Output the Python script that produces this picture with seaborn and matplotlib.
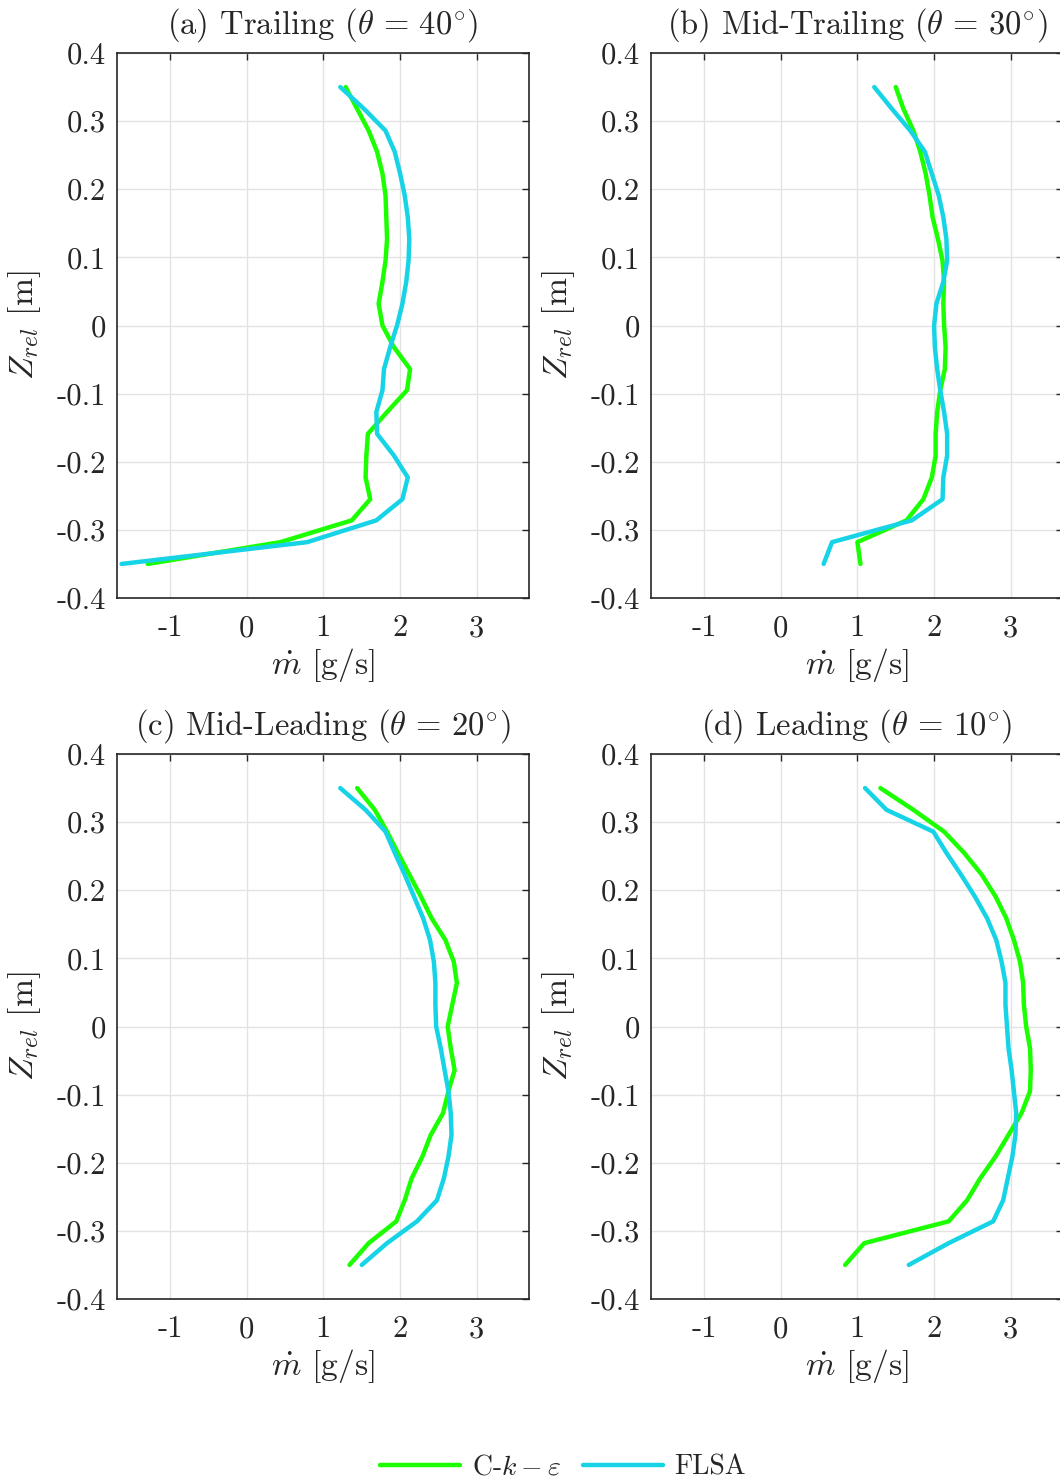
import matplotlib
matplotlib.use("Agg")
import matplotlib.pyplot as plt
import seaborn as sns
import pandas as pd
from matplotlib.lines import Line2D

# Relative height of the sampling stations [m]
z_rel = [0.35, 0.318, 0.286, 0.255, 0.223, 0.191, 0.159, 0.127, 0.095, 0.064,
         0.032, 0.0, -0.032, -0.064, -0.095, -0.127, -0.159, -0.191, -0.223,
         -0.255, -0.286, -0.318, -0.35]

# Mass flow rate [g/s], C-k-epsilon model
cke_trailing = [1.29, 1.44, 1.59, 1.70, 1.77, 1.81, 1.82, 1.83, 1.81, 1.77, 1.72, 1.77,
                1.92, 2.13, 2.09, 1.83, 1.58, 1.56, 1.55, 1.61, 1.37, 0.44, -1.29]
cke_mid_trailing = [1.50, 1.60, 1.73, 1.82, 1.89, 1.94, 1.98, 2.05, 2.11, 2.13, 2.12, 2.13,
                    2.15, 2.14, 2.08, 2.04, 2.02, 2.02, 1.97, 1.86, 1.64, 1.00, 1.04]
cke_mid_leading = [1.44, 1.67, 1.83, 1.97, 2.12, 2.27, 2.41, 2.59, 2.70, 2.74, 2.68, 2.62,
                   2.66, 2.71, 2.63, 2.56, 2.40, 2.29, 2.15, 2.06, 1.95, 1.59, 1.34]
cke_leading = [1.30, 1.73, 2.13, 2.39, 2.62, 2.80, 2.94, 3.04, 3.12, 3.16, 3.17, 3.20,
               3.25, 3.26, 3.25, 3.14, 2.97, 2.80, 2.60, 2.43, 2.19, 1.09, 0.84]

# Mass flow rate [g/s], FLSA model
flsa_trailing = [1.22, 1.53, 1.81, 1.93, 2.00, 2.06, 2.10, 2.12, 2.11, 2.08, 2.03, 1.96,
                 1.87, 1.79, 1.77, 1.69, 1.70, 1.92, 2.10, 2.03, 1.69, 0.79, -1.63]
flsa_mid_trailing = [1.22, 1.45, 1.69, 1.88, 1.97, 2.06, 2.12, 2.16, 2.17, 2.12, 2.03, 2.00,
                     2.01, 2.04, 2.08, 2.13, 2.17, 2.17, 2.12, 2.11, 1.71, 0.67, 0.56]
flsa_mid_leading = [1.22, 1.55, 1.81, 1.93, 2.06, 2.18, 2.30, 2.39, 2.44, 2.46, 2.46, 2.47,
                    2.53, 2.58, 2.63, 2.66, 2.67, 2.63, 2.57, 2.48, 2.22, 1.83, 1.50]
flsa_leading = [1.10, 1.38, 1.99, 2.16, 2.35, 2.53, 2.69, 2.81, 2.88, 2.93, 2.93, 2.95,
                2.97, 3.01, 3.04, 3.07, 3.06, 3.02, 2.96, 2.90, 2.77, 2.19, 1.67]

panel_titles = [r"(a) Trailing ($\theta\,=\,40^{\circ}$)",
                r"(b) Mid-Trailing ($\theta\,=\,30^{\circ}$)",
                r"(c) Mid-Leading ($\theta\,=\,20^{\circ}$)",
                r"(d) Leading ($\theta\,=\,10^{\circ}$)"]
model_names = [r"C-$k - \varepsilon$", "FLSA"]
x_ticks = [-1, 0, 1, 2, 3]
x_tick_labels = ["-1", "0", "1", "2", "3"]
y_ticks = [0.4, 0.3, 0.2, 0.1, 0.0, -0.1, -0.2, -0.3, -0.4]
y_tick_labels = ["0.4", "0.3", "0.2", "0.1", "0", "-0.1", "-0.2", "-0.3", "-0.4"]

cke_series = [cke_trailing, cke_mid_trailing, cke_mid_leading, cke_leading]
flsa_series = [flsa_trailing, flsa_mid_trailing, flsa_mid_leading, flsa_leading]

colors = {"cke": "#1bff00", "flsa": "#16d4e6"}

sns.set_theme(style="whitegrid")
plt.rcParams.update({
    "font.family": "cmr10",
    "mathtext.fontset": "cm",
    "axes.unicode_minus": False,
    "axes.formatter.use_mathtext": True,
    "font.size": 22,
})

TICK_FS = 22
LABEL_FS = 24.2
TITLE_FS = 23.5
LEGEND_FS = 20

W, H = 1060, 1481
fig = plt.figure(figsize=(W / 100, H / 100), dpi=100)
fig.patch.set_facecolor("white")

ax_w = 412 / W
ax_h = 545 / H
lefts = [117 / W, 651 / W]
bottoms = [1 - 598 / H, 1 - 1299 / H]

positions = [(lefts[0], bottoms[0]), (lefts[1], bottoms[0]),
             (lefts[0], bottoms[1]), (lefts[1], bottoms[1])]

for i, (x0, y0) in enumerate(positions):
    ax = fig.add_axes([x0, y0, ax_w, ax_h])
    df = pd.DataFrame({
        "mdot": cke_series[i] + flsa_series[i],
        "z": z_rel + z_rel,
        "model": ["cke"] * len(z_rel) + ["flsa"] * len(z_rel),
    })
    sns.lineplot(data=df, x="mdot", y="z", hue="model", palette=colors,
                 sort=False, estimator=None, linewidth=3.2, legend=False,
                 ax=ax, solid_capstyle="round", solid_joinstyle="round")
    ax.set_xlim(-1.69, 3.68)
    ax.set_ylim(-0.4, 0.4)
    ax.set_xticks(x_ticks)
    ax.set_xticklabels(x_tick_labels)
    ax.set_yticks(y_ticks)
    ax.set_yticklabels(y_tick_labels)
    ax.grid(True, color="#e3e3e3", linewidth=1.0)
    ax.set_facecolor("white")
    for sp in ax.spines.values():
        sp.set_color("#262626")
        sp.set_linewidth(1.2)
        sp.set_visible(True)
    ax.tick_params(axis="both", direction="in", length=5, width=1.0,
                   color="#262626", labelcolor="#262626", labelsize=TICK_FS,
                   top=True, right=True)
    ax.tick_params(axis="x", pad=12)
    ax.tick_params(axis="y", pad=8)
    ax.set_xlabel(r"$\dot{m}$ [g/s]", fontsize=LABEL_FS, color="#262626", labelpad=3)
    ax.set_ylabel(r"$Z_{rel}$ [m]", fontsize=LABEL_FS, color="#262626", labelpad=10)
    ax.set_title(panel_titles[i], fontsize=TITLE_FS, color="#262626", pad=14)

handles = [Line2D([], [], color=colors["cke"], linewidth=3.2),
           Line2D([], [], color=colors["flsa"], linewidth=3.2)]
fig.legend(handles, model_names, loc="center", bbox_to_anchor=(0.531, 0.009),
           ncol=2, frameon=False, fontsize=LEGEND_FS, handlelength=2.9,
           handletextpad=0.4, columnspacing=0.8)

fig.savefig("out.png", dpi=100, facecolor="white")
